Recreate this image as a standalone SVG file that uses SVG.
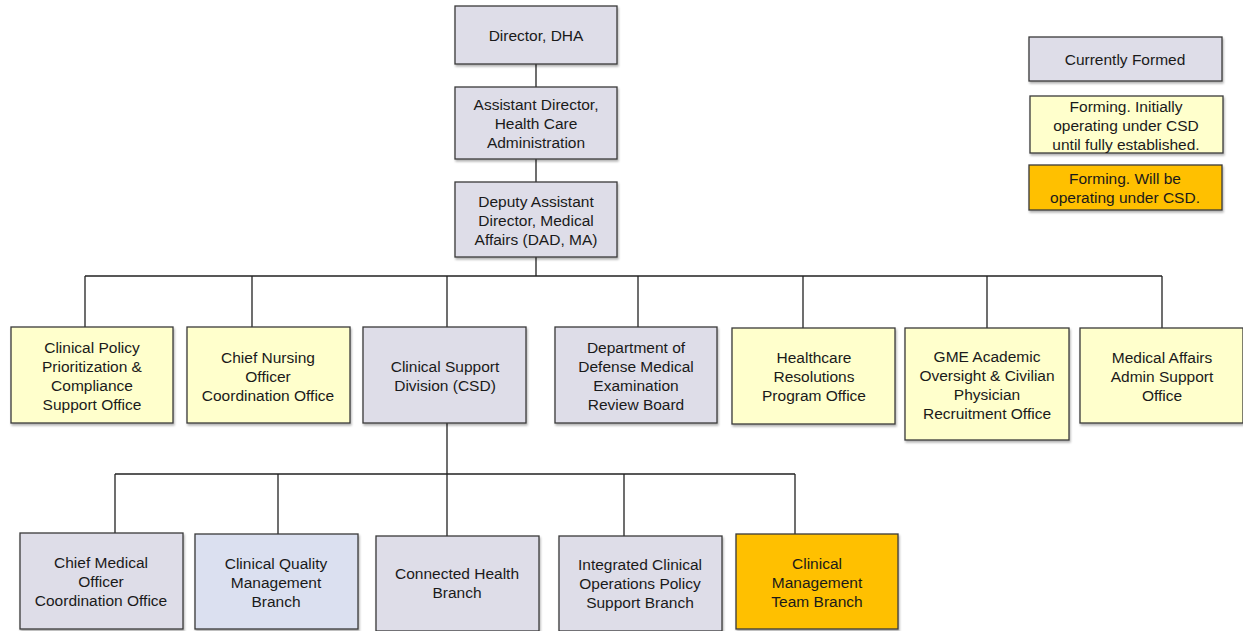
<svg xmlns="http://www.w3.org/2000/svg" width="1243" height="631" viewBox="0 0 1243 631">
<style>
.b{stroke:#3a3a3a;stroke-width:1.3;filter:url(#sh)}
.g{fill:#dedde8}
.y{fill:#ffffcc}
.o{fill:#ffc000}
.q{fill:#dbe0f0}
text{font-family:"Liberation Sans",Arial,sans-serif;font-size:15.5px;fill:#1a1a1a;text-anchor:middle}
.c{stroke:#222;stroke-width:1.3;fill:none}
</style>
<defs>
<filter id="sh" x="-5%" y="-5%" width="115%" height="120%">
<feDropShadow dx="1" dy="2" stdDeviation="1.2" flood-color="#000" flood-opacity="0.3"/>
</filter>
</defs>
<g id="connectors">
<path class="c" d="M536 64V87M536 159V182M536 257V276M85 276H1162M85 276V327M252 276V327M447 276V327M638 276V327M803 276V328M987 276V328M1162 276V328"/>
<path class="c" d="M447 423V474M115 474H795M115 474V533M278 474V534M447 474V536M624 474V536M795 474V534"/>
</g>
<g id="director"><rect class="b g" x="455" y="6" width="162" height="58"/><text x="536" y="41">Director, DHA</text></g>
<g id="asst"><rect class="b g" x="455" y="87" width="162" height="72"/><text x="536" y="110">Assistant Director,</text><text x="536" y="129">Health Care</text><text x="536" y="148">Administration</text></g>
<g id="deputy"><rect class="b g" x="455" y="182" width="162" height="75"/><text x="536" y="207">Deputy Assistant</text><text x="536" y="226">Director, Medical</text><text x="536" y="245">Affairs (DAD, MA)</text></g>
<g id="legend1"><rect class="b g" x="1029" y="37" width="193" height="44"/><text x="1125" y="65">Currently Formed</text></g>
<g id="legend2"><rect class="b y" x="1030" y="96" width="193" height="57"/><text x="1126" y="112">Forming. Initially</text><text x="1126" y="131">operating under CSD</text><text x="1126" y="150">until fully established.</text></g>
<g id="legend3"><rect class="b o" x="1029" y="165" width="193" height="45"/><text x="1125" y="184">Forming. Will be</text><text x="1125" y="203">operating under CSD.</text></g>
<g id="cpp"><rect class="b y" x="11" y="327" width="162" height="96"/><text x="92" y="353">Clinical Policy</text><text x="92" y="372">Prioritization &amp;</text><text x="92" y="391">Compliance</text><text x="92" y="410">Support Office</text></g>
<g id="cno"><rect class="b y" x="187" y="327" width="163" height="96"/><text x="268" y="363">Chief Nursing</text><text x="268" y="382">Officer</text><text x="268" y="401">Coordination Office</text></g>
<g id="csd"><rect class="b g" x="363" y="327" width="163" height="96"/><text x="445" y="372">Clinical Support</text><text x="445" y="391">Division (CSD)</text></g>
<g id="dod"><rect class="b g" x="555" y="327" width="162" height="96"/><text x="636" y="353">Department of</text><text x="636" y="372">Defense Medical</text><text x="636" y="391">Examination</text><text x="636" y="410">Review Board</text></g>
<g id="hrp"><rect class="b y" x="732" y="328" width="163" height="96"/><text x="814" y="363">Healthcare</text><text x="814" y="382">Resolutions</text><text x="814" y="401">Program Office</text></g>
<g id="gme"><rect class="b y" x="905" y="328" width="164" height="112"/><text x="987" y="362">GME Academic</text><text x="987" y="381">Oversight &amp; Civilian</text><text x="987" y="400">Physician</text><text x="987" y="419">Recruitment Office</text></g>
<g id="maas"><rect class="b y" x="1080" y="328" width="163" height="95"/><text x="1162" y="363">Medical Affairs</text><text x="1162" y="382">Admin Support</text><text x="1162" y="401">Office</text></g>
<g id="cmo"><rect class="b g" x="20" y="533" width="163" height="96"/><text x="101" y="568">Chief Medical</text><text x="101" y="587">Officer</text><text x="101" y="606">Coordination Office</text></g>
<g id="cqm"><rect class="b q" x="195" y="534" width="163" height="95"/><text x="276" y="569">Clinical Quality</text><text x="276" y="588">Management</text><text x="276" y="607">Branch</text></g>
<g id="chb"><rect class="b g" x="376" y="536" width="163" height="95"/><text x="457" y="579">Connected Health</text><text x="457" y="598">Branch</text></g>
<g id="icop"><rect class="b g" x="559" y="536" width="163" height="95"/><text x="640" y="570">Integrated Clinical</text><text x="640" y="589">Operations Policy</text><text x="640" y="608">Support Branch</text></g>
<g id="cmt"><rect class="b o" x="736" y="534" width="162" height="95"/><text x="817" y="569">Clinical</text><text x="817" y="588">Management</text><text x="817" y="607">Team Branch</text></g>
</svg>
